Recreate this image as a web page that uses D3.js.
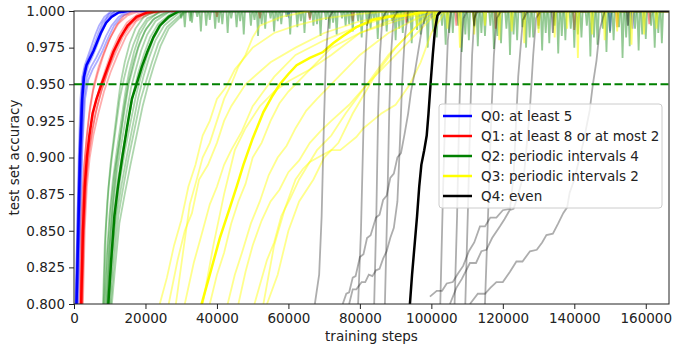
<!DOCTYPE html>
<html>
<head>
<meta charset="utf-8">
<script src="https://cdnjs.cloudflare.com/ajax/libs/d3/7.8.5/d3.min.js"></script>
<style>
body { margin: 0; background: #fff; }
text { font-family: "DejaVu Sans", sans-serif; }
</style>
</head>
<body>
<div id="chart"></div>
<script>
const seriesNames = ["Q0: at least 5", "Q1: at least 8 or at most 2", "Q2: periodic intervals 4",
  "Q3: periodic intervals 2", "Q4: even"];
const seriesColors = ["blue", "red", "green", "yellow", "black"];
const xTicks = [0, 20000, 40000, 60000, 80000, 100000, 120000, 140000, 160000];
const yTicks = [0.800, 0.825, 0.850, 0.875, 0.900, 0.925, 0.950, 0.975, 1.000];
const threshold = 0.95;

// Q0 - at least 5
const q0Mean = [[700,.80],[1200,.85],[1700,.90],[2300,.94],[2800,.955],[3500,.963],[4500,.968],[5500,.973],[6500,.979],[7500,.985],[9000,.992],[10500,.996],[12500,.999],[15000,1]];
const q0Runs = [
  [[400,.80],[900,.85],[1300,.90],[1800,.94],[2300,.955],[3000,.963],[4000,.970],[5000,.977],[6000,.984],[7000,.990],[8500,.996],[10500,1]],
  [[600,.80],[1100,.86],[1500,.90],[2000,.935],[2600,.955],[3400,.962],[4400,.967],[5400,.972],[6600,.980],[7800,.988],[9200,.995],[11500,1]],
  [[800,.80],[1300,.85],[1900,.90],[2500,.94],[3100,.955],[4000,.963],[5000,.968],[6200,.975],[7400,.983],[8800,.991],[10500,.997],[13000,1]],
  [[1000,.80],[1500,.85],[2100,.90],[2800,.94],[3600,.955],[4800,.962],[6200,.968],[7600,.975],[9000,.983],[10500,.99],[12500,.996],[15000,1]],
  [[500,.80],[1000,.86],[1600,.91],[2200,.945],[2900,.96],[3800,.966],[4800,.972],[5800,.978],[6800,.985],[8000,.992],[9800,.998],[12000,1]],
  [[1200,.80],[1800,.86],[2400,.91],[3100,.94],[4000,.953],[5200,.96],[6600,.966],[8000,.973],[9600,.982],[11200,.99],[13200,.996],[16000,1]]
];
const q0Dips = [[60000,.997],[100000,.995],[126000,.994],[150000,.986],[156300,.988]];

// Q1 - at least 8 or at most 2
const q1Mean = [[2000,.80],[2500,.85],[3000,.88],[3600,.90],[4300,.915],[5200,.93],[6300,.94],[7700,.95],[9200,.96],[11000,.972],[13000,.982],[15000,.99],[17500,.996],[20500,.999],[24000,1]];
const q1Runs = [
  [[1600,.80],[2100,.86],[2700,.89],[3400,.91],[4300,.93],[5300,.945],[6600,.957],[8000,.968],[9800,.98],[11800,.99],[14000,.997],[17000,1]],
  [[1900,.80],[2400,.85],[3000,.885],[3700,.905],[4600,.92],[5800,.935],[7200,.948],[8800,.96],[10500,.972],[12500,.983],[14800,.992],[18000,.998],[21000,1]],
  [[2200,.80],[2700,.85],[3300,.88],[4000,.90],[4900,.915],[6000,.93],[7600,.945],[9400,.958],[11400,.97],[13600,.982],[16000,.991],[19000,.997],[23000,1]],
  [[2500,.80],[3000,.85],[3600,.88],[4400,.90],[5400,.915],[6800,.93],[8400,.945],[10200,.958],[12200,.97],[14600,.983],[17400,.993],[21000,.998],[26000,1]],
  [[1800,.80],[2300,.86],[2900,.895],[3600,.915],[4500,.935],[5600,.95],[6900,.962],[8400,.972],[10200,.982],[12300,.991],[15000,.997],[18500,1]],
  [[2300,.80],[2800,.85],[3400,.885],[4200,.905],[5200,.92],[6500,.935],[8000,.948],[9800,.962],[11800,.975],[14000,.986],[16800,.994],[20000,.998],[24500,1]]
];
const q1Dips = [[40000,.996],[52000,.995],[66000,.994],[78000,.993],[93000,.992],[107000,.99],[118000,.988],[130000,.99],[140000,.987],[152000,.989],[161000,.991]];

// Q2 - periodic intervals 4
const q2Mean = [[9600,.80],[10400,.83],[11300,.86],[12300,.88],[13500,.90],[14800,.92],[16200,.94],[17500,.95],[19000,.962],[20500,.972],[22200,.982],[24000,.99],[26500,.996],[29500,1]];
const q2Runs = [
  [[8100,.80],[8600,.84],[9300,.87],[10200,.895],[11200,.915],[12200,.935],[13000,.95],[14200,.965],[15600,.978],[17200,.988],[19500,.996],[23000,1]],
  [[8500,.80],[9100,.83],[9900,.86],[10900,.885],[12000,.905],[13200,.925],[14400,.945],[15400,.958],[16800,.972],[18400,.984],[20500,.993],[24000,1]],
  [[8800,.80],[9400,.835],[10300,.865],[11400,.89],[12700,.91],[14000,.93],[15300,.95],[16600,.962],[18000,.975],[19800,.986],[22000,.994],[26000,1]],
  [[9100,.80],[9800,.835],[10800,.865],[12000,.89],[13300,.91],[14700,.93],[16000,.948],[17300,.96],[18800,.973],[20500,.984],[22800,.993],[27000,1]],
  [[9400,.80],[10100,.83],[11100,.86],[12300,.885],[13700,.905],[15200,.925],[16700,.945],[18000,.958],[19500,.97],[21300,.982],[23500,.991],[28000,1]],
  [[9700,.80],[10500,.83],[11600,.86],[12900,.885],[14300,.905],[15900,.925],[17400,.943],[18800,.956],[20400,.969],[22200,.981],[24500,.991],[29000,1]],
  [[10000,.80],[10800,.83],[11900,.86],[13200,.88],[14700,.90],[16300,.92],[17900,.94],[19400,.955],[21000,.968],[22800,.98],[25200,.99],[30000,1]],
  [[10300,.80],[11200,.83],[12400,.86],[13800,.88],[15300,.90],[17000,.92],[18700,.94],[20300,.953],[21800,.965],[23600,.978],[26000,.989],[31000,1]],
  [[10600,.80],[11500,.825],[12700,.855],[14200,.875],[15800,.895],[17500,.915],[19200,.935],[20800,.95],[22400,.963],[24200,.976],[26500,.988],[31500,1]],
  [[8300,.80],[8900,.85],[9700,.88],[10600,.90],[11700,.92],[12800,.94],[13900,.953],[15100,.965],[16600,.977],[18300,.987],[20500,.995],[25000,1]],
  [[9300,.80],[10000,.84],[10900,.87],[11900,.895],[13000,.915],[14100,.935],[15300,.952],[16700,.966],[18300,.978],[20200,.988],[22600,.995],[27000,1]]
];
const q2Dips = [[31000,.989],[33000,.992],[35500,.986],[37000,.990],[39500,.988],[41500,.991],[43000,.985],[45500,.989],[47500,.984],[49500,.990],
  [51500,.983],[53500,.988],[56000,.986],[58000,.991],[60500,.984],[62500,.989],[64500,.985],[67000,.990],[69000,.983],[71500,.988],
  [73500,.984],[76000,.990],[78000,.986],[80500,.982],[83000,.988],[85000,.981],[87500,.986],[90000,.980],[92000,.985],[94500,.978],
  [97000,.984],[99000,.975],[101500,.982],[104000,.977],[106000,.985],[108500,.972],[110500,.980],[113000,.976],[115000,.983],[117500,.974],
  [119500,.978],[122000,.970],[124000,.980],[126500,.975],[128500,.982],[131000,.973],[133000,.978],[135500,.971],[137500,.980],[140000,.975],
  [142000,.982],[144500,.969],[146500,.977],[149000,.972],[151000,.980],[153500,.968],[155500,.976],[158000,.973],[160000,.981],[162500,.975],[164500,.978]];
const q2DipsB = [[30000,.995],[32500,.993],[34500,.996],[38000,.994],[40500,.992],[44000,.995],[46500,.993],[50500,.994],[52500,.991],[55000,.995],
  [57000,.993],[59500,.996],[63500,.993],[66000,.995],[68000,.991],[70500,.994],[72500,.992],[75000,.995],[77000,.991],[79500,.993],
  [82000,.990],[84000,.994],[86500,.990],[89000,.993],[91000,.988],[93500,.992],[96000,.987],[98000,.991],[100500,.986],[103000,.990],
  [105000,.985],[107500,.990],[109500,.984],[112000,.989],[114000,.985],[116500,.990],[118500,.983],[121000,.988],[123000,.984],[125500,.989],
  [127500,.982],[130000,.988],[132000,.985],[134500,.990],[136500,.983],[139000,.988],[141000,.984],[143500,.990],[145500,.982],[148000,.988],
  [150000,.985],[152500,.989],[154500,.982],[157000,.988],[159000,.984],[161500,.990],[163500,.985]];

// Q3 - periodic intervals 2
const q3Mean = [[35700,.80],[38000,.82],[40800,.845],[43500,.865],[45500,.88],[47400,.895],[50000,.913],[53000,.931],[55500,.942],[57600,.950],[60000,.957],[62300,.963],[66000,.968],[69700,.972],[72500,.978],[75300,.983],[79000,.989],[83700,.994],[88000,.996],[93000,.997],[97000,.999],[100400,1]];
const q3Runs = [
  [[24000,.80],[26000,.818],[28000,.84],[30000,.857],[32000,.88],[34000,.895],[36000,.915],[38000,.925],[40000,.94],[42500,.948],[45000,.96],[50000,.975],[56000,.985],[62000,.99],[70000,.995],[80000,.998],[90000,1]],
  [[26500,.80],[29000,.83],[31000,.85],[33000,.862],[35000,.885],[37500,.895],[40000,.91],[42000,.925],[44000,.935],[48000,.95],[55000,.965],[62000,.975],[70000,.985],[80000,.993],[95000,1]],
  [[28500,.80],[30500,.835],[32400,.868],[34000,.882],[36000,.90],[38000,.91],[40000,.925],[42000,.94],[44000,.95],[46000,.962],[48000,.97],[50000,.982],[52000,.99],[58000,.996],[66000,1]],
  [[31000,.80],[33500,.828],[36000,.85],[38000,.868],[40000,.88],[42000,.895],[44000,.905],[47000,.918],[50000,.935],[53000,.945],[56000,.955],[62000,.97],[70000,.98],[80000,.99],[90000,.997],[100000,1]],
  [[38000,.80],[40000,.82],[42000,.835],[44000,.855],[46000,.87],[48000,.882],[50000,.90],[52500,.91],[55000,.925],[57500,.937],[60000,.945],[66000,.96],[72000,.975],[80000,.985],[90000,.993],[100000,1]],
  [[43000,.80],[45000,.82],[47000,.835],[49500,.855],[52000,.87],[54500,.888],[57000,.90],[59500,.908],[62000,.92],[65000,.932],[68000,.94],[74000,.955],[80000,.97],[88000,.985],[96000,.995],[102000,1]],
  [[50500,.80],[54000,.83],[56000,.842],[58000,.86],[60500,.872],[63000,.885],[65500,.895],[68000,.905],[72000,.915],[76000,.93],[82000,.95],[88000,.97],[94000,.985],[100000,1]],
  [[54000,.80],[57000,.82],[60000,.85],[63000,.87],[67000,.885],[70000,.90],[74000,.91],[78000,.93],[84000,.955],[90000,.975],[96000,.99],[102000,1]],
  [[53000,.80],[56000,.84],[59000,.865],[62000,.885],[64000,.892],[66000,.897],[69000,.901],[72000,.905],[74500,.905],[77000,.91],[79000,.914],[81000,.92],[83500,.925],[86000,.93],[90000,.936],[94000,.95],[97000,.965],[100000,.985],[104000,1]],
  [[46000,.80],[48000,.822],[50000,.84],[52500,.857],[55000,.87],[57500,.878],[60000,.89],[63000,.898],[66000,.91],[69000,.918],[72000,.925],[77000,.936],[82000,.95],[88000,.965],[94000,.98],[100000,.995],[104000,1]],
  [[36000,.80],[39000,.84],[42000,.875],[45000,.905],[48000,.92],[52000,.935],[56000,.945],[60000,.952],[66000,.96],[72000,.97],[80000,.985],[90000,.995],[98000,1]]
];
const q3Dips = [[96000,.99],[101000,.985],[104500,.988],[108000,.975],[112000,.984],[115000,.990],[119000,.980],[122500,.986],[126000,.978],[130000,.985],
  [134500,.982],[138000,.988],[141000,.968],[145000,.984],[148500,.980],[152000,.986],[156000,.977],[159500,.984],[163000,.988]];

// Q4 - even
const q4Mean = [[94000,.80],[94600,.82],[95300,.84],[96000,.86],[96600,.88],[97200,.895],[98000,.905],[98700,.915],[99200,.93],[99800,.951],[100400,.97],[101000,.987],[101700,.997],[102600,1]];
const q4Runs = [
  [[67400,.80],[68600,.82],[69300,.86],[69900,.92],[70500,.97],[71300,.995],[72500,1]],
  [[75200,.80],[76200,.807],[77000,.808],[78000,.818],[78800,.819],[80000,.832],[81000,.834],[82000,.845],[83000,.847],[84500,.859],[85500,.861],[86500,.871],[87500,.874],[88500,.886],[89500,.889],[90500,.90],[91500,.903],[92500,.916],[93500,.93],[94300,.945],[95500,.96],[96500,.975],[97500,.99],[99000,1]],
  [[77000,.80],[78000,.81],[79000,.81],[80500,.815],[81500,.815],[82500,.82],[83500,.819],[84500,.823],[85500,.824],[86500,.831],[87500,.836],[88500,.845],[89500,.852],[90500,.87],[91200,.91],[91800,.95],[92500,.98],[93500,1]],
  [[79500,.80],[80300,.85],[80900,.91],[81400,.96],[82000,.99],[83000,1]],
  [[84000,.80],[84600,.86],[85100,.93],[85600,.97],[86300,.995],[87500,1]],
  [[87000,.80],[87700,.87],[88200,.93],[88700,.97],[89400,.995],[90500,1]],
  [[99600,.805],[101500,.809],[103000,.809],[104300,.814],[106000,.815],[107500,.821],[108900,.826],[110500,.836],[112000,.842],[113600,.853],[115000,.853],[116500,.859],[118200,.859],[120000,.864],[122000,.865],[123000,.887],[124300,.955],[125600,.994],[127000,1]],
  [[105200,.80],[107000,.811],[108500,.817],[110800,.828],[112500,.828],[114000,.836],[115400,.837],[117000,.845],[119200,.853],[120500,.858],[121900,.864],[123000,.865],[124000,.872],[126000,.89],[127500,.93],[128500,.97],[129300,.995],[130500,1]],
  [[110800,.80],[113000,.807],[115000,.807],[116500,.811],[118200,.815],[120000,.815],[122000,.822],[123800,.829],[125500,.829],[127600,.836],[129500,.837],[131000,.842],[132200,.847],[134000,.848],[135500,.855],[136900,.862],[138000,.866],[138700,.876],[140000,.885],[141500,.90],[142500,.91],[144300,.932],[145200,.95],[146200,.966],[147100,.987],[148500,1]],
  [[102500,.80],[103300,.88],[104000,.94],[104600,.98],[105500,1]],
  [[106500,.80],[107200,.86],[107800,.93],[108300,.97],[109000,.995],[110000,1]],
  [[109500,.80],[110300,.87],[110900,.93],[111400,.97],[112000,.995],[113000,1]],
  [[115000,.80],[116000,.87],[116800,.93],[117500,.97],[118300,.995],[119500,1]]
];
const q4Dips = [[112000,.99],[134000,.985],[155000,.99]];

const allMeans = [q0Mean, q1Mean, q2Mean, q3Mean, q4Mean];
const allRuns = [q0Runs, q1Runs, q2Runs, q3Runs, q4Runs];
const allDips = [[q0Dips], [q1Dips], [q2Dips, q2DipsB], [q3Dips], [q4Dips]];

const margin = {top: 11, right: 9, bottom: 41, left: 74};
const width = 678 - margin.left - margin.right;
const height = 345 - margin.top - margin.bottom;
const xMax = 166500;
const dipHalf = 350;

let svg = d3.select("#chart").append("svg")
  .attr("width", 678)
  .attr("height", 345);
let g = svg.append("g")
  .attr("transform", "translate(" + margin.left + "," + margin.top + ")");

let x = d3.scaleLinear().domain([0, xMax]).range([0, width]);
let y = d3.scaleLinear().domain([0.8, 1.0]).range([height, 0]);

g.append("clipPath").attr("id", "plot-clip")
  .append("rect").attr("width", width).attr("height", height);

let line = d3.line()
  .x(function(d) { return x(d[0]); })
  .y(function(d) { return y(d[1]); });

// turn a list of dips into a plateau line at 1.0 with spikes
function plateau(dips) {
  let pts = [[dips[0][0] - dipHalf * 3, 1]];
  dips.forEach(function(d) {
    pts.push([d[0] - dipHalf, 1], d, [d[0] + dipHalf, 1]);
  });
  pts.push([xMax, 1]);
  return pts;
}

let plot = g.append("g").attr("clip-path", "url(#plot-clip)");

for (let i = 0; i < 5; i++) {
  let col = seriesColors[i];
  let op = i == 3 ? 0.45 : 0.32;
  plot.selectAll(".run" + i)
    .data(allRuns[i])
    .enter().append("path")
    .attr("class", "run" + i)
    .attr("d", line)
    .attr("fill", "none")
    .attr("stroke", col)
    .attr("stroke-opacity", op)
    .attr("stroke-width", 1.8);
  allDips[i].forEach(function(dips) {
    plot.append("path")
      .attr("d", line(plateau(dips)))
      .attr("fill", "none")
      .attr("stroke", col)
      .attr("stroke-opacity", op + 0.1)
      .attr("stroke-width", 1.8);
  });
  plot.append("path")
    .attr("d", line(allMeans[i].concat([[xMax, 1]])))
    .attr("fill", "none")
    .attr("stroke", col)
    .attr("stroke-width", 2.5);
}

plot.append("line")
  .attr("x1", 0).attr("x2", width)
  .attr("y1", y(threshold)).attr("y2", y(threshold))
  .attr("stroke", "green")
  .attr("stroke-width", 1.8)
  .attr("stroke-dasharray", "8,3.5");

// axes
let xAxis = g.append("g")
  .attr("transform", "translate(0," + height + ")")
  .call(d3.axisBottom(x).tickValues(xTicks).tickFormat(d3.format("d")).tickSizeOuter(0).tickSize(5).tickPadding(4));
let yAxis = g.append("g")
  .call(d3.axisLeft(y).tickValues(yTicks).tickFormat(d3.format(".3f")).tickSizeOuter(0).tickSize(5).tickPadding(4));
[xAxis, yAxis].forEach(function(a) {
  a.select(".domain").remove();
  a.selectAll("text").attr("font-family", "DejaVu Sans").attr("font-size", 13.5).attr("fill", "#222");
  a.selectAll("line").attr("stroke", "#222");
});

g.append("rect")
  .attr("width", width).attr("height", height)
  .attr("fill", "none").attr("stroke", "#222").attr("stroke-width", 1);

svg.append("text")
  .attr("x", margin.left + width / 2).attr("y", 341)
  .attr("text-anchor", "middle")
  .attr("font-size", 13.5).attr("fill", "#222")
  .text("training steps");
svg.append("text")
  .attr("transform", "translate(19," + (margin.top + height / 2) + ") rotate(-90)")
  .attr("text-anchor", "middle")
  .attr("font-size", 13.5).attr("fill", "#222")
  .text("test set accuracy");

// legend
let legend = svg.append("g").attr("transform", "translate(439,104)");
legend.append("rect")
  .attr("width", 223).attr("height", 104).attr("rx", 3)
  .attr("fill", "white").attr("fill-opacity", 0.8)
  .attr("stroke", "#ccc");
seriesNames.forEach(function(name, i) {
  let row = legend.append("g").attr("transform", "translate(0," + (12 + i * 20) + ")");
  row.append("line")
    .attr("x1", 4).attr("x2", 33)
    .attr("stroke", seriesColors[i]).attr("stroke-width", 2.5);
  row.append("text")
    .attr("x", 42).attr("dy", "0.35em")
    .attr("font-size", 13.5).attr("fill", "#222")
    .text(name);
});
</script>
</body>
</html>
